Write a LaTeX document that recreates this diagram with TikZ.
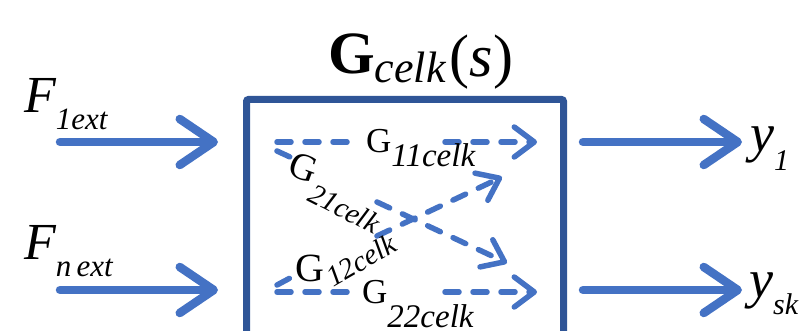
\documentclass[tikz,border=0pt]{standalone}
\usepackage{fontspec}
\setmainfont{Liberation Serif}
\usetikzlibrary{arrows.meta}
\definecolor{boxblue}{HTML}{2F5597}
\definecolor{arrblue}{HTML}{4472C4}
\newcommand{\fsz}[1]{\fontsize{#1}{#1}\selectfont}
\tikzset{
  bigarrow/.style={draw=arrblue, line width=8.5pt, line cap=round,
    -{Straight Barb[length=34pt,width=46pt,line cap=round,line join=round]}},
  dasharrow/.style={draw=arrblue, line width=5.5pt, line cap=round,
    dash pattern=on 14pt off 14pt,
    -{Straight Barb[length=20pt,width=30pt,line cap=round,line join=round]}},
  dashseg/.style={draw=arrblue, line width=5.5pt, line cap=round,
    dash pattern=on 14pt off 14pt},
  lbl/.style={inner sep=0pt, anchor=base west, text=black},
}
\begin{document}
\begin{tikzpicture}[x=1pt,y=-1pt]
\useasboundingbox (0,0) rectangle (810,331);
% block
\draw[boxblue, line width=7pt, rounded corners=2pt] (246.5,400) -- (246.5,99.5) -- (563.5,99.5) -- (563.5,400);
% title
\node[lbl] (title) at (328,74) {\fsz{60}\bfseries G\raisebox{-9pt}{\fsz{44}\mdseries\itshape celk}\hspace{4pt}\raisebox{-3pt}{\fsz{60}\mdseries(\textit{s})}};
% inputs
\node[lbl] (F1) at (24,113) {\fsz{52}\itshape F\raisebox{-17pt}{\fsz{31}1ext}};
\node[lbl] (Fn) at (24,259) {\fsz{52}\itshape F\raisebox{-17pt}{\fsz{31}n\,ext}};
\coordinate (i1s) at (60,142); \coordinate (i1e) at (218,142);
\coordinate (i2s) at (60,290); \coordinate (i2e) at (218,290);
\draw[bigarrow] (i1s) -- (i1e);
\draw[bigarrow] (i2s) -- (i2e);
% outputs
\coordinate (o1s) at (583,142); \coordinate (o1e) at (742,142);
\coordinate (o2s) at (583,290); \coordinate (o2e) at (742,290);
\draw[bigarrow] (o1s) -- (o1e);
\draw[bigarrow] (o2s) -- (o2e);
\node[lbl] (y1) at (750,152) {\fsz{54}\itshape y\raisebox{-19pt}{\fsz{30}1}};
\node[lbl] (y2) at (749,297) {\fsz{54}\itshape y\raisebox{-17pt}{\fsz{30}sk}};
% inner paths
\coordinate (a11) at (277,142); \coordinate (b11) at (352,142);
\coordinate (c11) at (445,142); \coordinate (d11) at (537,142);
\draw[dashseg] (a11) -- (b11);
\draw[dasharrow] (c11) -- (d11);
\coordinate (a22) at (277,292); \coordinate (b22) at (352,292);
\coordinate (c22) at (445,292); \coordinate (d22) at (537,292);
\draw[dashseg] (a22) -- (b22);
\draw[dasharrow] (c22) -- (d22);
\coordinate (a21) at (277,151); \coordinate (b21) at (290,157);
\coordinate (c21) at (377,202); \coordinate (d21) at (507,263);
\draw[dashseg] (a21) -- (b21);
\draw[dasharrow] (c21) -- (d21);
\coordinate (a12) at (277,285); \coordinate (b12) at (292,277);
\coordinate (c12) at (377,236); \coordinate (d12) at (502,177);
\draw[dashseg] (a12) -- (b12);
\draw[dasharrow] (c12) -- (d12);
% labels
\node[lbl] (G11) at (366,153) {\fsz{35}G\raisebox{-14pt}{\fsz{33}\itshape 11celk}};
\node[lbl] (G22) at (362,303) {\fsz{35}G\raisebox{-24pt}{\fsz{33}\itshape 22celk}};
\node[inner sep=0pt, rotate=-20] (G21) at (304,168) {\fsz{38}G};
\node[lbl, rotate=-27] (G21s) at (306,200) {\fsz{29}\itshape 21celk};
\node[inner sep=0pt] (G12) at (310,268) {\fsz{40}G};
\node[lbl, rotate=30] (G12s) at (333,288) {\fsz{29}\itshape 12celk};
\end{tikzpicture}
\end{document}
